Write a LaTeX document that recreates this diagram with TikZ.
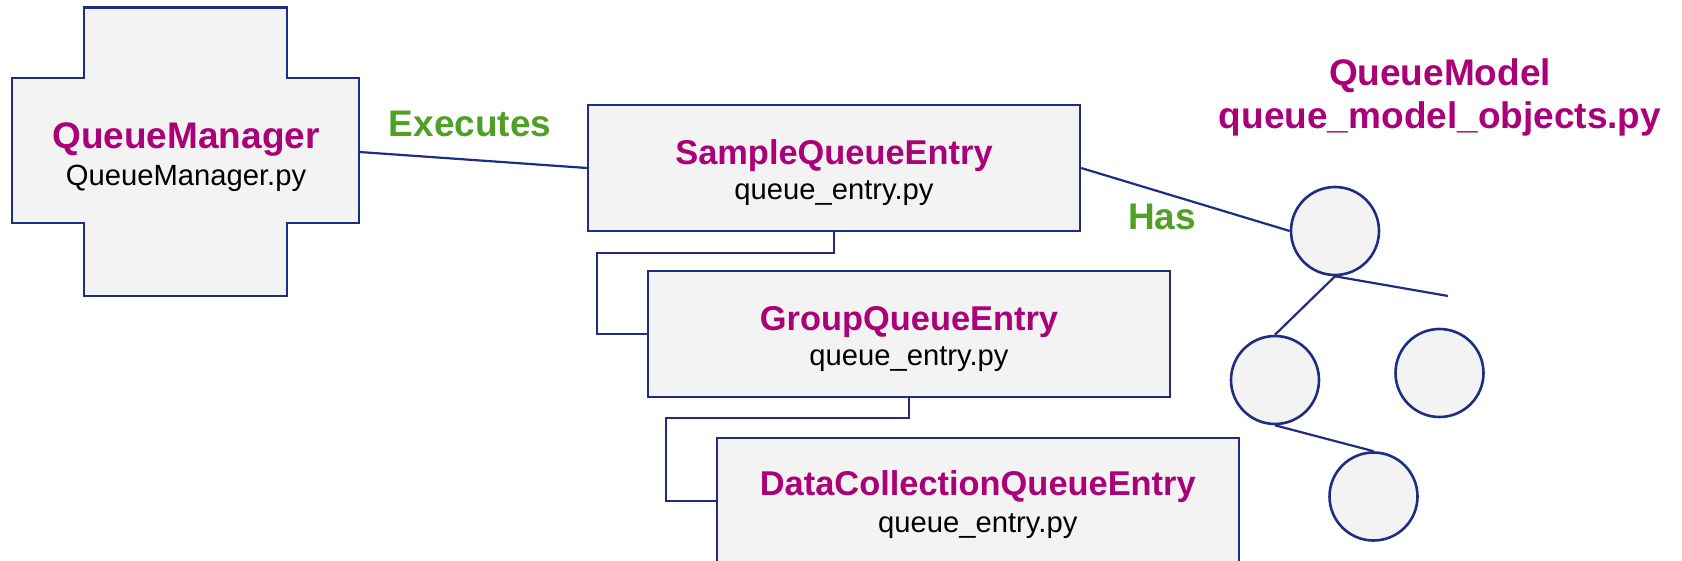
\documentclass[tikz,border=0pt]{standalone}
\usepackage{fontspec}
\setmainfont{Liberation Sans}
\usetikzlibrary{calc}
\definecolor{navy}{RGB}{31,45,128}
\definecolor{boxfill}{RGB}{243,243,243}
\definecolor{titlemag}{RGB}{170,0,120}
\definecolor{relgreen}{RGB}{80,160,40}
\tikzset{
  link/.style={draw=navy, line width=1.1pt},
  entrybox/.style={rectangle, draw=navy, fill=boxfill, line width=1.1pt, inner sep=0pt, minimum height=63pt},
  treenode/.style={circle, draw=navy, fill=boxfill, line width=1.3pt, inner sep=0pt, minimum size=44pt},
  titletext/.style={anchor=base, inner sep=0pt, text=titlemag, font=\fontsize{18.5}{22}\selectfont\bfseries},
  entrytitle/.style={titletext, font=\fontsize{17.2}{21}\selectfont\bfseries},
  filetext/.style={anchor=base, inner sep=0pt, text=black, font=\fontsize{14.6}{17}\selectfont},
  reltext/.style={anchor=base, inner sep=0pt, text=relgreen, font=\fontsize{18.5}{22}\selectfont\bfseries},
}
\begin{document}
\begin{tikzpicture}[x=0.5pt, y=-0.5pt]
\useasboundingbox (0,0) rectangle (1682,561);

% QueueManager: cross-shaped block
\fill[boxfill, draw=navy, line width=1.1pt]
  (84,7.5) -- (287,7.5) -- (287,78) -- (359,78) -- (359,223) -- (287,223)
  -- (287,296) -- (84,296) -- (84,223) -- (12,223) -- (12,78) -- (84,78) -- cycle;
\node[inner sep=0pt, minimum width=173.5pt, minimum height=72.5pt] (qm) at (185.5,152) {};
\node[titletext] (qmtitle) at (186,149) {QueueManager};
\node[filetext] (qmfile) at (186,186) {QueueManager.py};

% Queue entry classes
\node[entrybox, minimum width=246pt] (sqe) at (834,168) {};
\node[entrytitle] (sqetitle) at (834,164.5) {SampleQueueEntry};
\node[filetext] (sqefile) at (834,199.5) {queue\_entry.py};

\node[entrybox, minimum width=261pt] (gqe) at (909,334) {};
\node[entrytitle] (gqetitle) at (909,330.5) {GroupQueueEntry};
\node[filetext] (gqefile) at (909,365.5) {queue\_entry.py};

\node[entrybox, minimum width=261.2pt] (dcqe) at (977.8,501) {};
\node[entrytitle] (dcqetitle) at (977.8,495.5) {DataCollectionQueueEntry};
\node[filetext] (dcqefile) at (977.8,532.5) {queue\_entry.py};

% Queue model tree
\node[titletext] (qmodel) at (1440,85.5) {QueueModel};
\node[titletext] (qmodelfile) at (1440,128.5) {queue\_model\_objects.py};
\node[treenode] (t0) at (1335,231) {};
\node[treenode] (t1) at (1275,380) {};
\node[treenode] (t2) at (1439.5,373) {};
\node[treenode] (t3) at (1373.5,496.5) {};
\coordinate (t0leaf) at (1448,296);

% Relations
\node[reltext] (executes) at (470,137) {Executes};
\node[reltext] (has) at (1162,230) {Has};

\draw[link] (qm.east) -- (sqe.west);
\draw[link] (sqe.east) -- (t0.west);
\draw[link] (sqe.south) -- ++(0,21) -| ($(gqe.west)+(-50,0)$) -- (gqe.west);
\draw[link] (gqe.south) -- ++(0,20) -| ($(dcqe.west)+(-49.6,0)$) -- (dcqe.west);
\draw[link] (t0.south) -- (t1.north);
\draw[link] (t0.south) -- (t0leaf);
\draw[link] (t1.south) -- (t3.north);
\end{tikzpicture}
\end{document}
